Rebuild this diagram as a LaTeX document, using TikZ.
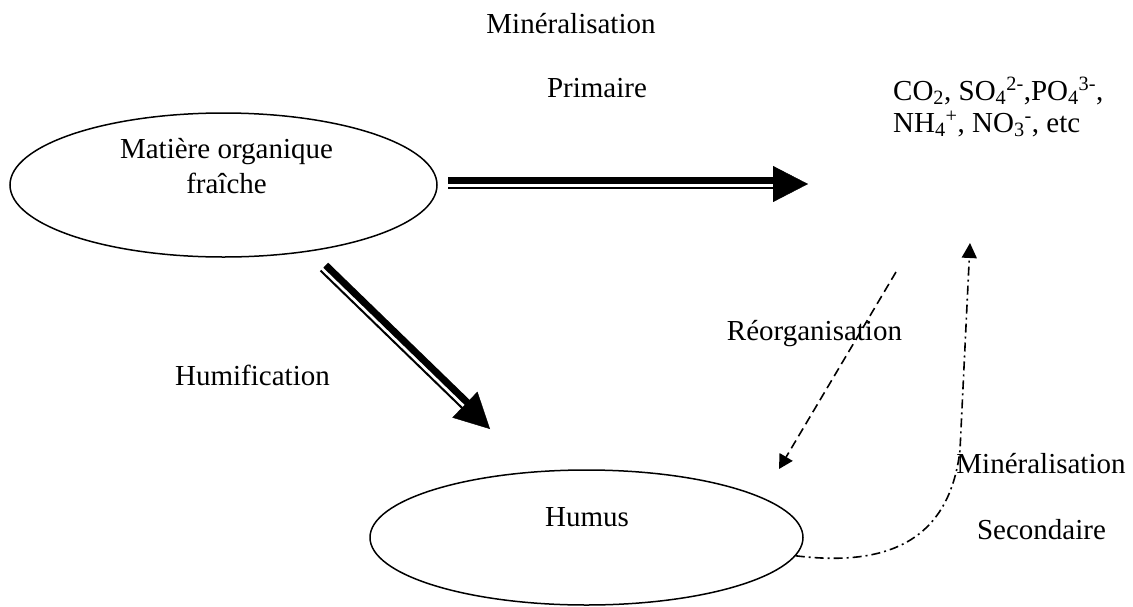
\documentclass[tikz,border=0pt]{standalone}
\usepackage{fontspec}
\setmainfont{Liberation Serif}
\usetikzlibrary{arrows.meta,calc,shapes.geometric}
\tikzset{
  every picture/.style={font=\fontsize{29}{35}\selectfont},
  cyc pool/.style={draw, ellipse, line width=1.5pt, inner sep=0pt},
  cyc label/.style={anchor=base, inner sep=0pt},
  cyc heavy/.style={line width=7pt, line cap=butt},
  cyc light/.style={line width=2pt, line cap=butt},
  cyc fat tip/.style={-{Triangle[length=35pt,width=36pt]}},
  cyc reorg/.style={line width=1.6pt, dash pattern=on 9pt off 5pt,
    -{Triangle[length=14pt,width=15pt]}},
  cyc mineral/.style={line width=1.6pt, dash pattern=on 9pt off 4pt on 2pt off 4pt,
    -{Triangle[length=15pt,width=15pt]}}
}
\begin{document}
\begin{tikzpicture}[x=1pt,y=-1pt]
  \useasboundingbox (0,0) rectangle (1133,606);
  \node[cyc pool, minimum width=427pt, minimum height=144pt] (fresh) at (223.5,185) {};
  \node[cyc pool, minimum width=433pt, minimum height=135pt] (humus) at (586.5,537.5) {};
  \node[cyc label, align=center] (freshtxt) at (226.5,193) {Matière organique\\fraîche};
  \node[cyc label] (humustxt) at (587,526) {Humus};
  \node[cyc label, anchor=base west, align=left, font=\fontsize{29}{32}\selectfont] (ions) at (893,132)
    {CO\textsubscript{2}, SO\textsubscript{4}\textsuperscript{2-},PO\textsubscript{4}\textsuperscript{3-},\\
     NH\textsubscript{4}\textsuperscript{+}, NO\textsubscript{3}\textsuperscript{-}, etc};
  \node[cyc label] (minA) at (571,33) {Minéralisation};
  \node[cyc label] (prim) at (597,97) {Primaire};
  \node[cyc label] (humif) at (252.5,385) {Humification};
  \node[cyc label] (reorg) at (814.5,340) {Réorganisation};
  \node[cyc label] (minB) at (1041,473) {Minéralisation};
  \node[cyc label] (second) at (1041.5,539) {Secondaire};
  \coordinate (hTail) at (448,184);
  \coordinate (hTip) at (808,184);
  \coordinate (dTail) at (323.5,267.5);
  \coordinate (dTip) at (490,429);
  \coordinate (rTail) at (896,272);
  \coordinate (rTip) at (779,469);
  \coordinate (mTip) at (970,243);
  \foreach \src/\dst in {hTail/hTip, dTail/dTip} {
    \coordinate (stem) at ($(\dst)!33pt!(\src)$);
    \draw[cyc heavy] ($(\src)!3.2pt!90:(\dst)$) -- ($(stem)!3.2pt!-90:(\src)$);
    \draw[cyc light] ($(\src)!4.3pt!-90:(\dst)$) -- ($(stem)!4.3pt!90:(\src)$);
    \draw[cyc fat tip] ($(\dst)!35pt!(\src)$) -- (\dst);
  }
  \draw[cyc reorg] (rTail) -- (rTip);
  \draw[cyc mineral] (humus.-5) .. controls (895,568) and (950,535) .. (960,450) -- (mTip);
\end{tikzpicture}
\end{document}
